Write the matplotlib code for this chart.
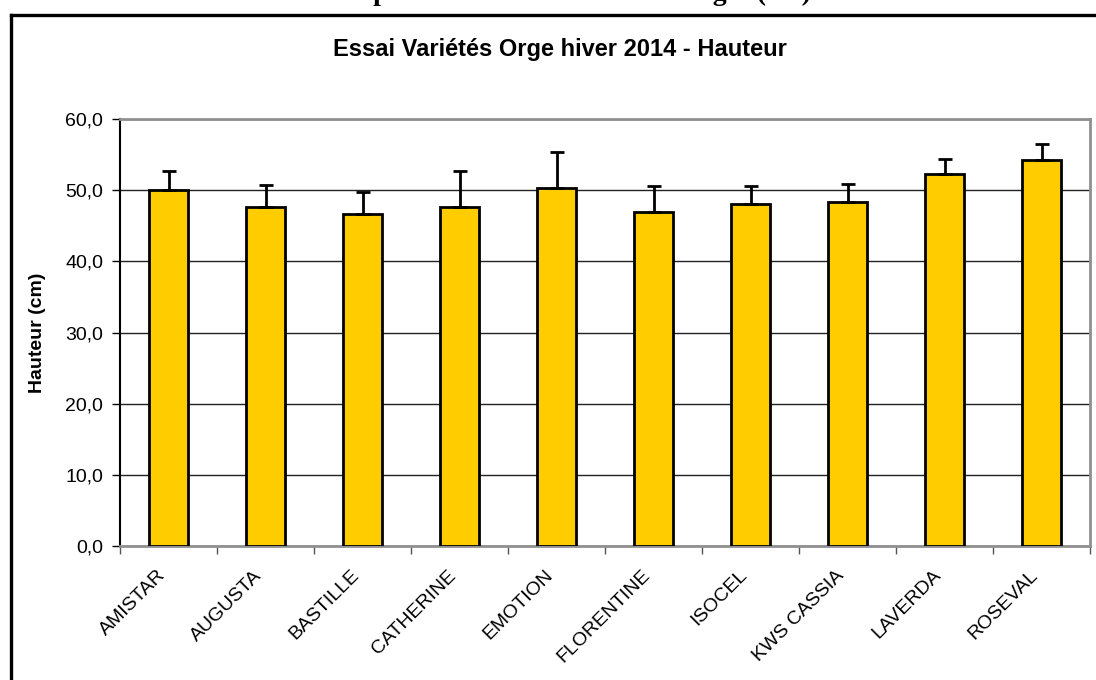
import matplotlib
matplotlib.use("Agg")
import matplotlib.pyplot as plt
from matplotlib.lines import Line2D
import numpy as np

categories = ["AMISTAR", "AUGUSTA", "BASTILLE", "CATHERINE", "EMOTION",
              "FLORENTINE", "ISOCEL", "KWS CASSIA", "LAVERDA", "ROSEVAL"]
heights = [50.0, 47.6, 46.6, 47.6, 50.3, 47.0, 48.0, 48.3, 52.3, 54.3]
errors = [2.7, 3.1, 3.1, 5.1, 5.1, 3.6, 2.6, 2.6, 2.1, 2.2]
yticks = [0, 10, 20, 30, 40, 50, 60]

W, H = 1096, 680
fig = plt.figure(figsize=(W / 100, H / 100), dpi=100)
plt.rcParams['font.family'] = ['Liberation Sans', 'DejaVu Sans']

ax = fig.add_axes([120 / W, 1 - 546 / H, (1090 - 120) / W, (546 - 119) / H])

x = np.arange(len(categories))
ax.bar(x, heights, width=0.4, color="#FFCC00", edgecolor="black",
       linewidth=2, zorder=3)
ax.errorbar(x, heights, yerr=[np.zeros(len(errors)), errors], fmt="none",
            ecolor="black", elinewidth=2, capsize=5, capthick=2, zorder=4)

ax.set_xlim(-0.5, len(categories) - 0.5)
ax.set_ylim(0, 60)
ax.set_yticks(yticks)
ax.set_yticklabels([f"{v:.1f}".replace(".", ",") for v in yticks], fontsize=14)
ax.yaxis.grid(True, color="#222222", linewidth=1, zorder=0)
ax.set_axisbelow(True)

ax.set_xticks(x)
ax.set_xticklabels(categories, rotation=45, ha="right", fontsize=14)
ax.tick_params(axis="x", which="major", length=0, pad=15)
ax.set_xticks(np.arange(len(categories) + 1) - 0.5, minor=True)
ax.tick_params(axis="x", which="minor", length=6, width=1, color="#555555",
               direction="out")
ax.tick_params(axis="y", length=6, width=1, pad=6, direction="out")

for s in ["top", "right", "bottom"]:
    ax.spines[s].set_color("#909090")
    ax.spines[s].set_linewidth(2)
ax.spines["left"].set_color("black")
ax.spines["left"].set_linewidth(1.5)

ax.set_ylabel("Hauteur (cm)", fontsize=14, fontweight="bold")
ax.yaxis.set_label_coords((46 - 120) / (1090 - 120), 0.5)

fig.text(560 / W, 1 - 56 / H, "Essai Variétés Orge hiver 2014 - Hauteur",
         ha="center", va="baseline", fontsize=17, fontweight="bold")

# cropped outer caption at the very top
fig.text(563 / W, 1 - 0.5 / H, "Comparaison des hauteurs des orges (cm)",
         ha="center", va="baseline", fontsize=20, fontweight="bold",
         family=["Liberation Serif", "DejaVu Serif"])

# outer chart frame (extends beyond right and bottom)
fig.add_artist(Line2D([11 / W, 11 / W], [1 - 15 / H, -0.05], color="black",
                      linewidth=2.4, transform=fig.transFigure))
fig.add_artist(Line2D([11 / W, 1.05], [1 - 15 / H, 1 - 15 / H], color="black",
                      linewidth=2.4, transform=fig.transFigure))

fig.savefig("out.png", dpi=100)
